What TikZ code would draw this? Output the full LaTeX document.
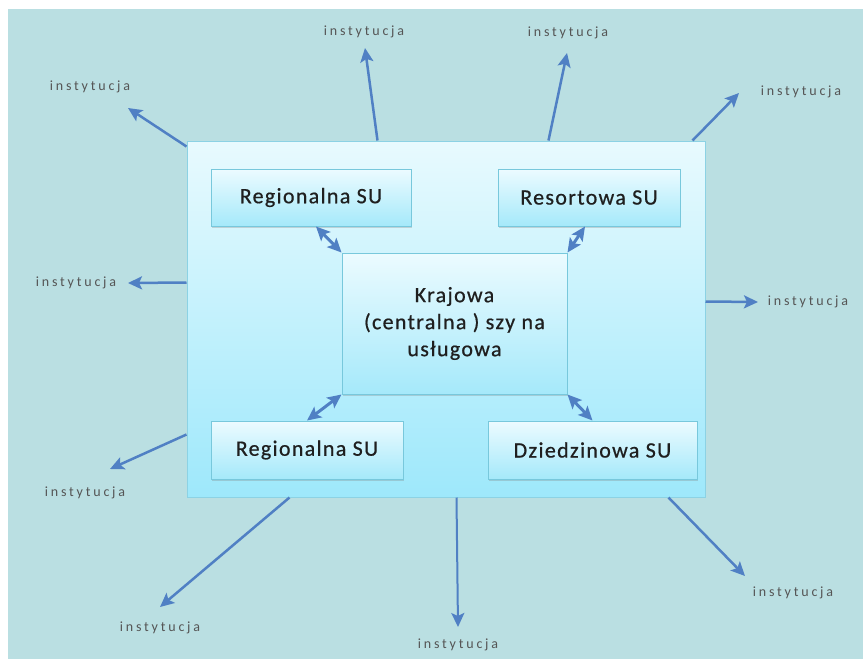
\documentclass[tikz,border=0pt]{standalone}
\usepackage{fontspec}
\setmainfont{Carlito}
\newfontfamily\boxfont[LetterSpace=6,FakeBold=0.6]{Carlito}
\newfontfamily\labfont[LetterSpace=20]{Carlito}
\usetikzlibrary{arrows.meta,%
                positioning,%
                shadows}

\definecolor{bgteal}{RGB}{186,223,226}
\definecolor{panelline}{RGB}{140,210,228}
\definecolor{paneltop}{RGB}{232,250,254}
\definecolor{panelbot}{RGB}{158,232,251}
\definecolor{boxtop}{RGB}{236,251,255}
\definecolor{boxbot}{RGB}{165,233,250}
\definecolor{boxline}{RGB}{120,200,220}
\definecolor{arrowblue}{RGB}{80,128,196}
\definecolor{labgray}{RGB}{85,85,85}

\begin{document}
\begin{tikzpicture}[>={Stealth[length=14pt, width=13pt, inset=3pt]}, x=1pt, y=-1pt]
  \tikzset{SUBox/.style = {draw=boxline, line width=1pt,
                           top color=boxtop, bottom color=boxbot,
                           inner sep=0pt, align=center, text=black!88,
                           font=\boxfont\fontsize{22}{27}\selectfont,
                           drop shadow={opacity=0.3, shadow xshift=1pt, shadow yshift=-2pt}}}
  \tikzset{Lab/.style = {inner sep=0pt, text=labgray,
                         font=\labfont\fontsize{14}{16}\selectfont}}
  \tikzset{OutEdge/.style = {->, draw=arrowblue, line width=2.5pt}}
  \tikzset{DblEdge/.style = {<->, draw=arrowblue, line width=3pt}}
  %\tikzset{OutEdge/.append style = {bend left = 5}}

  \useasboundingbox (0,0) rectangle (863,659);
  \fill[white] (0,0) rectangle (863,659);
  \fill[bgteal] (8,9) rectangle (863,659);

  \node[draw=panelline, line width=1pt, top color=paneltop, bottom color=panelbot,
        minimum width=518pt, minimum height=356pt, inner sep=0pt] (panel) at (446,319) {};

  \node[SUBox, minimum width=200pt, minimum height=57pt] (reg1) at (311,197.5) {Regionalna SU};
  \node[SUBox, minimum width=182pt, minimum height=57pt] (res) at (589,197.5) {Resortowa SU};
  \node[SUBox, minimum width=225pt, minimum height=141pt] (cen) at (454.5,323.5)
       {Krajowa\\(centralna ) szy na\\usługowa};
  \node[SUBox, minimum width=192pt, minimum height=58pt] (reg2) at (307,450) {Regionalna SU};
  \node[SUBox, minimum width=209pt, minimum height=58pt] (dzi) at (592.5,450) {Dziedzinowa SU};

  \draw[DblEdge] ([xshift=5pt]reg1.south) -- (cen.north west);
  \draw[DblEdge] ([xshift=-4pt]res.south) -- (cen.north east);
  \draw[DblEdge] (reg2.north) -- (cen.south west);
  \draw[DblEdge] (dzi.north) -- (cen.south east);

  % instytucje
  \node[Lab] (i1) at (90,87) {instytucja};
  \node[Lab] (i2) at (364,32) {instytucja};
  \node[Lab] (i3) at (568,33) {instytucja};
  \node[Lab] (i4) at (801,92) {instytucja};
  \node[Lab] (i5) at (76,283) {instytucja};
  \node[Lab] (i6) at (808,302) {instytucja};
  \node[Lab] (i7) at (85,493) {instytucja};
  \node[Lab] (i8) at (160,628) {instytucja};
  \node[Lab] (i9) at (458,645) {instytucja};
  \node[Lab] (i10) at (793,593) {instytucja};

  \coordinate (t1) at (128,108);
  \coordinate (t2) at (365,48);
  \coordinate (t3) at (567,53);
  \coordinate (t4) at (739,93);
  \coordinate (t5) at (128,283);
  \coordinate (t6) at (758,302);
  \coordinate (t7) at (110,469);
  \coordinate (t8) at (160,607);
  \coordinate (t9) at (458,627);
  \coordinate (t10) at (745,576);

  \draw[OutEdge] ([yshift=-6pt]panel.north west) -- (t1);
  \draw[OutEdge] ([xshift=191pt]panel.north west) -- (t2);
  \draw[OutEdge] ([xshift=362pt]panel.north west) -- (t3);
  \draw[OutEdge] ([xshift=-13pt]panel.north east) -- (t4);
  \draw[OutEdge] ([yshift=-142pt]panel.north west) -- (t5);
  \draw[OutEdge] ([yshift=-161pt]panel.north east) -- (t6);
  \draw[OutEdge] ([yshift=63pt]panel.south west) -- (t7);
  \draw[OutEdge] ([xshift=103pt]panel.south west) -- (t8);
  \draw[OutEdge, line width=2pt] ([xshift=270pt]panel.south west) -- (t9);
  \draw[OutEdge] ([xshift=-37pt]panel.south east) -- (t10);

\end{tikzpicture}
\end{document}
